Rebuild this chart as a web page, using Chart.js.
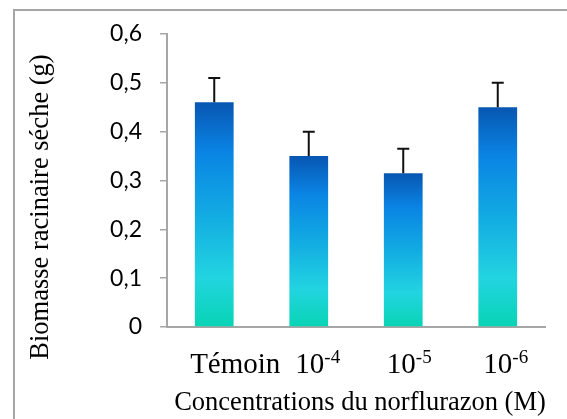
<!DOCTYPE html>
<html lang="fr">
<head>
<meta charset="UTF-8">
<title>Biomasse racinaire séche</title>
<style>
  body { margin: 0; background: #fff; }
  .wrap { position: relative; width: 567px; height: 419px; overflow: hidden; }
  .frame { position: absolute; left: 13px; top: 9px; width: 620px; height: 480px; border: 2px solid #a6a6a6; }
  canvas { position: absolute; left: 0; top: 0; }
</style>
</head>
<body>
<div class="wrap">
  <div class="frame"></div>
  <canvas id="chart" width="567" height="419"></canvas>
</div>

<script src="https://cdn.jsdelivr.net/npm/chart.js"></script>
<script>
  // data
  const categoryBase = ['Témoin', '10', '10', '10'];
  const categoryExp = ['', '-4', '-5', '-6'];
  const biomass = [0.46, 0.35, 0.315, 0.45];
  const errors = [0.05, 0.05, 0.05, 0.05];
  const yTicks = [0, 0.1, 0.2, 0.3, 0.4, 0.5, 0.6];

  const labels = categoryBase.map((b, i) => b + categoryExp[i]);
  const serif = '"Liberation Serif", "Times New Roman", serif';

  // blue -> cyan -> teal gradient, per bar
  function barGradient(ctx) {
    const chart = ctx.chart;
    if (!chart.chartArea || ctx.raw == null) return '#0a84e4';
    const y = chart.scales.y;
    const top = y.getPixelForValue(ctx.raw);
    const bottom = y.getPixelForValue(0);
    const g = chart.ctx.createLinearGradient(0, top, 0, bottom);
    g.addColorStop(0, '#0856b2');
    g.addColorStop(0.22, '#0a84e4');
    g.addColorStop(0.5, '#12abe2');
    g.addColorStop(0.78, '#22d4e0');
    g.addColorStop(1, '#08d4b4');
    return g;
  }

  const errorBars = {
    id: 'errorBars',
    afterDatasetsDraw(chart) {
      const ctx = chart.ctx;
      const y = chart.scales.y;
      const meta = chart.getDatasetMeta(0);
      ctx.save();
      ctx.strokeStyle = '#111';
      ctx.lineWidth = 2;
      meta.data.forEach((bar, i) => {
        const yTop = y.getPixelForValue(biomass[i] + errors[i]);
        const yBar = y.getPixelForValue(biomass[i]);
        ctx.beginPath();
        ctx.moveTo(bar.x, yBar);
        ctx.lineTo(bar.x, yTop);
        ctx.moveTo(bar.x - 6, yTop);
        ctx.lineTo(bar.x + 6, yTop);
        ctx.stroke();
      });
      ctx.restore();
    }
  };

  // category labels with superscript exponents, axis titles
  const textLabels = {
    id: 'textLabels',
    afterDraw(chart) {
      const ctx = chart.ctx;
      const x = chart.scales.x;
      const area = chart.chartArea;
      const shift = [21, 9, 6, 8];
      const baseFont = '29px ' + serif;
      const expFont = '19px ' + serif;
      ctx.save();
      ctx.fillStyle = '#000';
      ctx.textBaseline = 'alphabetic';
      ctx.textAlign = 'left';
      categoryBase.forEach((b, i) => {
        ctx.font = baseFont;
        const wb = ctx.measureText(b).width;
        ctx.font = expFont;
        const we = categoryExp[i] ? ctx.measureText(categoryExp[i]).width : 0;
        const cx = x.getPixelForValue(i) + shift[i];
        const left = cx - (wb + we) / 2;
        ctx.font = baseFont;
        ctx.fillText(b, left, 373);
        if (categoryExp[i]) {
          ctx.font = expFont;
          ctx.fillText(categoryExp[i], left + wb, 363);
        }
      });

      ctx.font = '26.5px ' + serif;
      ctx.textAlign = 'center';
      ctx.fillText('Concentrations du norflurazon (M)', (area.left + area.right) / 2 + 4, 410);

      ctx.translate(41, 207);
      ctx.rotate(-Math.PI / 2);
      ctx.textBaseline = 'middle';
      ctx.fillText('Biomasse racinaire séche (g)', 0, 0);
      ctx.restore();
    }
  };

  const chart = new Chart(document.getElementById('chart'), {
    type: 'bar',
    data: {
      labels: labels,
      datasets: [{
        label: 'Biomasse racinaire séche (g)',
        data: biomass,
        backgroundColor: barGradient,
        borderWidth: 0,
        barPercentage: 0.41,
        categoryPercentage: 1
      }]
    },
    options: {
      responsive: false,
      animation: false,
      layout: { padding: { top: 34, right: 22, left: 0, bottom: 0 } },
      plugins: { legend: { display: false }, tooltip: { enabled: false } },
      scales: {
        x: {
          grid: { display: false },
          border: { color: '#a6a6a6', width: 2 },
          ticks: { display: false },
          afterFit(s) { s.height = 92; }
        },
        y: {
          min: 0,
          max: 0.6,
          afterBuildTicks(s) { s.ticks = yTicks.map(v => ({ value: v })); },
          ticks: {
            color: '#000',
            padding: 18,
            font: { family: 'Lato', size: 23 },
            callback: v => String(Math.round(v * 10) / 10).replace('.', ',')
          },
          grid: { drawOnChartArea: false, drawTicks: true, tickLength: 7, color: '#a6a6a6', lineWidth: 1.5 },
          border: { color: '#a6a6a6', width: 2 },
          afterFit(s) { s.width = 167; }
        }
      }
    },
    plugins: [errorBars, textLabels]
  });
</script>
</body>
</html>
